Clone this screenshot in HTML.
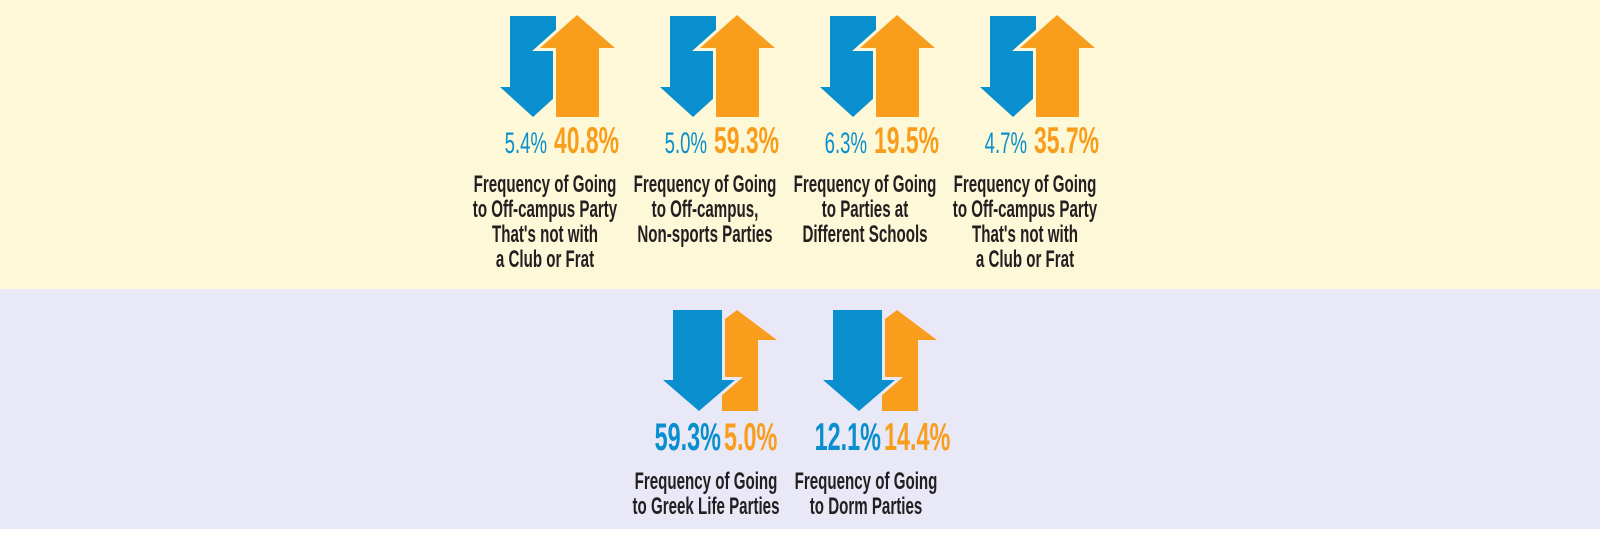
<!DOCTYPE html>
<html><head><meta charset="utf-8"><style>
body{margin:0;width:1600px;height:540px;overflow:hidden;background:#fff;font-family:"Liberation Sans",sans-serif}
svg{display:block}
</style></head><body>
<svg id="chart" width="1600" height="540" xmlns="http://www.w3.org/2000/svg">
<rect x="0" y="0" width="1600" height="289" fill="#fcf8d8"/>
<rect x="0" y="289" width="1600" height="240" fill="#e9e8f7"/>
</svg>
<script>
const topDown=[5.4,5.0,6.3,4.7];
const topUp=[40.8,59.3,19.5,35.7];
const topLabels=[["Frequency of Going","to Off-campus Party","That's not with","a Club or Frat"],["Frequency of Going","to Off-campus,","Non-sports Parties"],["Frequency of Going","to Parties at","Different Schools"],["Frequency of Going","to Off-campus Party","That's not with","a Club or Frat"]];
const botDown=[59.3,12.1];
const botUp=[5.0,14.4];
const botLabels=[["Frequency of Going","to Greek Life Parties"],["Frequency of Going","to Dorm Parties"]];
const BLUE="#0a8fce",ORANGE="#f99d1c",INK="#231f20";
const svg=document.getElementById('chart');
const NS="http://www.w3.org/2000/svg";
function poly(pts,fill,stroke,name){const p=document.createElementNS(NS,'polygon');p.setAttribute('points',pts.map(a=>a.join(',')).join(' '));p.setAttribute('fill',fill);if(stroke){p.setAttribute('stroke',stroke);p.setAttribute('stroke-width','6');p.setAttribute('paint-order','stroke');}


svg.appendChild(p);}
function txt(x,y,s,size,fill,anchor,name,w,wt){const t=document.createElementNS(NS,'text');t.setAttribute('x',x);t.setAttribute('y',y);t.setAttribute('font-size',size);t.setAttribute('fill',fill);t.setAttribute('font-weight',wt||'bold');t.setAttribute('text-anchor',anchor);t.setAttribute('transform','translate('+x+' 0) scale('+w+' 1) translate('+(-x)+' 0)');t.textContent=s;


svg.appendChild(t);}
const fmt=v=>v.toFixed(1)+'%';
topDown.forEach((d,i)=>{const o=i*160;
 poly([[510+o,16],[556+o,16],[556+o,87],[566+o,87],[533+o,117],[500+o,87],[510+o,87]],BLUE,null,'down-arrow-top-'+(i+1));
 poly([[556+o,117],[556+o,48],[540+o,48],[577+o,15],[615+o,48],[599+o,48],[599+o,117]],ORANGE,'#fcf8d8','up-arrow-top-'+(i+1));
 txt(547+o,153,fmt(d),30,BLUE,'end','down-value-top-'+(i+1),0.62,'normal');
 txt(554+o,153,fmt(topUp[i]),37,ORANGE,'start','up-value-top-'+(i+1),0.62);
 topLabels[i].forEach((l,j)=>txt(545+o,192+j*25,l,24,INK,'middle','label-top-'+(i+1)+'-line-'+(j+1),0.63));
});
botDown.forEach((d,i)=>{const o=i*160;
 poly([[722+o,411],[722+o,340],[697+o,340],[737+o,310],[777+o,340],[758+o,340],[758+o,411]],ORANGE,null,'up-arrow-bottom-'+(i+1));
 poly([[673+o,310],[722+o,310],[722+o,380],[735+o,380],[699+o,411],[663+o,380],[673+o,380]],BLUE,'#e9e8f7','down-arrow-bottom-'+(i+1));
 txt(721+o,450,fmt(d),39,BLUE,'end','down-value-bottom-'+(i+1),0.6);
 txt(724+o,450,fmt(botUp[i]),39,ORANGE,'start','up-value-bottom-'+(i+1),0.6);
 botLabels[i].forEach((l,j)=>txt(706+o,489+j*25,l,24,INK,'middle','label-bottom-'+(i+1)+'-line-'+(j+1),0.63));
});
</script>
</body></html>
